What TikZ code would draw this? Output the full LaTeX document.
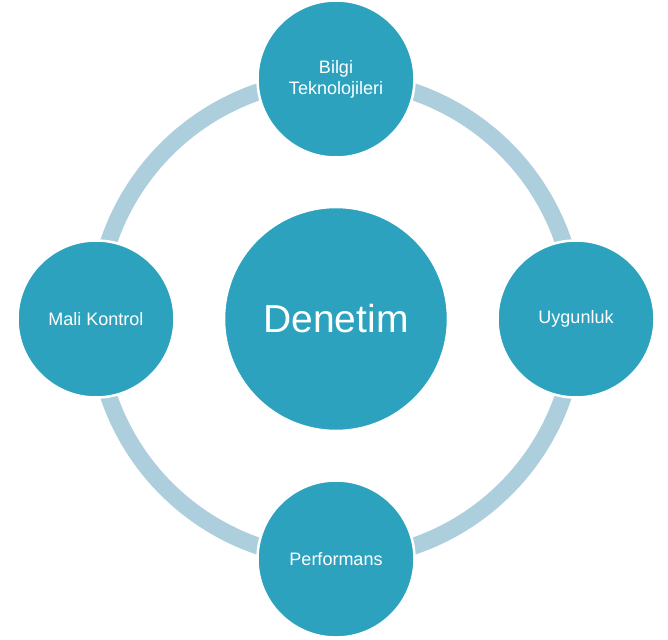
\documentclass[tikz,border=0pt]{standalone}
\usepackage{fontspec}
\setmainfont{Liberation Sans}
\definecolor{disk}{HTML}{2CA2BF}
\definecolor{ringc}{HTML}{ADCFDD}
\begin{document}
\begin{tikzpicture}[x=1pt,y=-1pt,
  disknode/.style={circle,fill=disk,draw=white,line width=2.5pt,text=white,inner sep=0pt,minimum size=157pt,align=center,font=\fontsize{18}{21}\selectfont},
  bignode/.style={circle,fill=disk,draw=white,line width=2.5pt,text=white,inner sep=0pt,minimum size=224pt,font=\fontsize{39}{44}\selectfont}]
\useasboundingbox (0,0) rectangle (668,639);
\coordinate (c) at (336,319);
\draw[ringc,line width=17pt] (c) circle[radius=240];
\node[bignode] (center) at (336,319) {Denetim};
\node[disknode] (top) at (336,79) {Bilgi\\Teknolojileri};
\node[disknode] (right) at (576,319) {Uygunluk};
\node[disknode] (bottom) at (336,559) {Performans};
\node[disknode] (left) at (96,319) {Mali Kontrol};
\end{tikzpicture}
\end{document}
